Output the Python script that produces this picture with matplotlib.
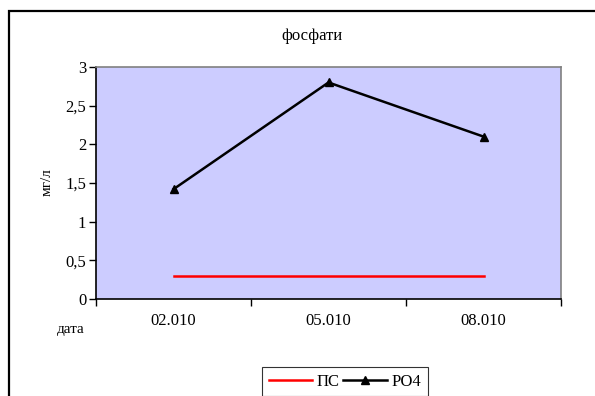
import matplotlib
matplotlib.use("Agg")
import matplotlib.pyplot as plt
from matplotlib.patches import Rectangle

dates = ["02.010", "05.010", "08.010"]
ps_values = [0.3, 0.3, 0.3]
po4_values = [1.42, 2.8, 2.1]
y_ticks = [0, 0.5, 1, 1.5, 2, 2.5, 3]
y_labels = ["0", "0,5", "1", "1,5", "2", "2,5", "3"]

plt.rcParams["font.family"] = ["Liberation Serif", "DejaVu Serif"]

W, H = 595, 396
fig = plt.figure(figsize=(W / 100, H / 100), dpi=100)
fig.patch.set_facecolor("white")

# outer chart frame (right and bottom edges run past the canvas)
fig.patches.append(Rectangle((9 / W, -0.2), 1.2, 1 - 11 / H + 0.2,
                             transform=fig.transFigure, fill=False,
                             edgecolor="black", linewidth=1.6))

ax = fig.add_axes([96 / W, 1 - 299 / H, 465 / W, 232 / H])
ax.set_facecolor("#CCCCFF")

x = list(range(len(dates)))
ax.plot(x, ps_values, color="#FF0000", linewidth=1.8, label="ПС")
ax.plot(x, po4_values, color="black", linewidth=1.8, marker="^",
        markersize=6, label="РО4")

ax.set_xlim(-0.5, len(dates) - 0.5)
ax.set_ylim(0, 3)
ax.set_yticks(y_ticks)
ax.set_yticklabels(y_labels, fontsize=12)
ax.set_xticks([i + 0.5 for i in range(-1, len(dates))], minor=False)
ax.set_xticklabels([])
ax.set_xticks(x, minor=True)
ax.set_xticklabels(dates, minor=True, fontsize=12)
ax.tick_params(axis="x", which="major", direction="out", length=5, width=1)
ax.tick_params(axis="x", which="minor", length=0, pad=10)
ax.tick_params(axis="y", direction="out", length=5, width=1, pad=2)

for side in ("top", "right"):
    ax.spines[side].set_color("#808080")
    ax.spines[side].set_linewidth(1.2)
for side in ("left", "bottom"):
    ax.spines[side].set_color("black")
    ax.spines[side].set_linewidth(1.2)

fig.text(312 / W, 1 - 36 / H, "фосфати", ha="center", va="center", fontsize=12)
fig.text(47 / W, 1 - 182 / H, "мг/л", ha="center", va="center",
         rotation=90, fontsize=11)
fig.text(71 / W, 1 - 329 / H, "дата", ha="center", va="center", fontsize=11)

leg = fig.legend(loc="upper left", bbox_to_anchor=(262 / W, 1 - 367 / H),
                 ncol=2, fontsize=12, frameon=True, fancybox=False,
                 handlelength=2.6, handletextpad=0.3, columnspacing=0.2,
                 borderpad=0.4, borderaxespad=0)
leg.get_frame().set_edgecolor("black")
leg.get_frame().set_linewidth(0.8)

fig.savefig("out.png", dpi=100)
